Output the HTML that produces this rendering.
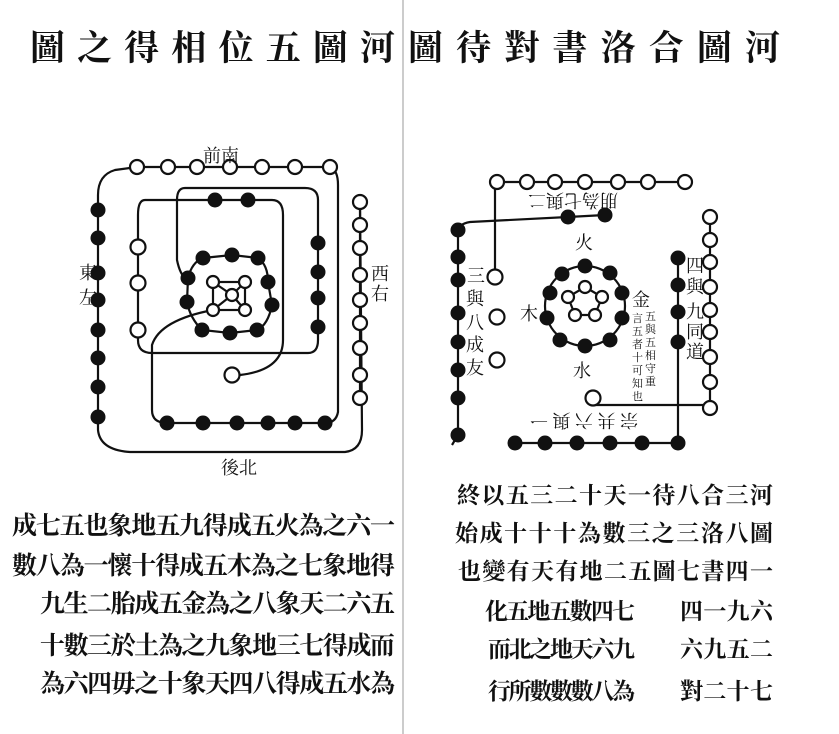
<!DOCTYPE html>
<html><head><meta charset="utf-8"><style>
html,body{margin:0;padding:0;background:#fff;}
svg{display:block;}
text{font-family:"Liberation Serif","Noto Serif CJK SC","Noto Sans CJK SC",serif;fill:#111;}
.b{font-weight:bold;}
</style></head><body>
<svg width="839" height="734" viewBox="0 0 839 734" xmlns="http://www.w3.org/2000/svg">
<rect width="839" height="734" fill="#fff"/>
<line x1="403" y1="0" x2="403" y2="734" stroke="#999" stroke-width="1"/>
<g class="b">
<text x="30" y="60" font-size="35" textLength="365" lengthAdjust="spacing">圖之得相位五圖河</text>
<text x="408" y="60" font-size="35" textLength="372" lengthAdjust="spacing">圖待對書洛合圖河</text>
</g>

<g fill="none" stroke="#111" stroke-width="2.2">
<path d="M137,167 L115,170 Q98,175 98,195 L98,430 Q100,450 130,452 L345,452 Q362,450 362,430 L360,202"/>
<path d="M330,167 Q338,170 338,185 L338,412 Q336,423 325,423 L167,423 Q152,423 152,410 L152,345 Q160,320 213,310"/>
<line x1="137" y1="167" x2="330" y2="167"/>
<line x1="360" y1="202" x2="360" y2="398"/>
<path d="M215,200 L145,200 Q138,200 138,215 L138,340 Q138,353 152,353 L308,353 Q318,353 318,340 L318,200 Q318,188 305,188 L185,188 Q177,188 177,200 L177,260 Q180,275 187,280"/>
<path d="M248,200 L272,200 Q283,200 283,215 L283,340 Q283,370 240,375 L232,375"/>
<line x1="215" y1="200" x2="248" y2="200"/>
<path d="M188,278 Q192,262 203,258 L232,255 L258,258 Q268,265 268,282 L272,305 Q268,325 257,330 L230,333 L202,330 Q190,318 187,302 Z"/>
<rect x="213" y="282" width="32" height="28"/>
<line x1="213" y1="282" x2="232" y2="295"/><line x1="245" y1="282" x2="232" y2="295"/>
<line x1="213" y1="310" x2="232" y2="295"/><line x1="245" y1="310" x2="232" y2="295"/>

<line x1="497" y1="182" x2="685" y2="182"/>
<line x1="495" y1="182" x2="495" y2="277"/>
<path d="M605,215 L568,217 L470,222 Q458,224 458,232 L458,435 L452,445"/>
<circle cx="585" cy="306" r="40"/>
<path d="M585,287 L602,297 L595,315 L575,315 L568,297 Z"/>
<line x1="710" y1="217" x2="710" y2="408"/>
<line x1="593" y1="405" x2="710" y2="405"/>
<line x1="678" y1="258" x2="678" y2="443"/>
<line x1="515" y1="443" x2="678" y2="443"/>
</g>

<g fill="#fff" stroke="#111" stroke-width="2.2">
<circle cx="137" cy="167" r="7"/><circle cx="168" cy="167" r="7"/><circle cx="197" cy="167" r="7"/><circle cx="230" cy="167" r="7"/><circle cx="262" cy="167" r="7"/><circle cx="295" cy="167" r="7"/><circle cx="330" cy="167" r="7"/>
<circle cx="360" cy="202" r="7"/><circle cx="360" cy="225" r="7"/><circle cx="360" cy="248" r="7"/><circle cx="360" cy="275" r="7"/><circle cx="360" cy="300" r="7"/><circle cx="360" cy="323" r="7"/><circle cx="360" cy="348" r="7"/><circle cx="360" cy="375" r="7"/><circle cx="360" cy="398" r="7"/>
<circle cx="138" cy="247" r="7.5"/><circle cx="138" cy="283" r="7.5"/><circle cx="138" cy="330" r="7.5"/>
<circle cx="232" cy="375" r="7.5"/>
<circle cx="213" cy="282" r="6"/><circle cx="245" cy="282" r="6"/><circle cx="232" cy="295" r="6"/><circle cx="213" cy="310" r="6"/><circle cx="245" cy="310" r="6"/>
<circle cx="497" cy="182" r="7"/><circle cx="527" cy="182" r="7"/><circle cx="555" cy="182" r="7"/><circle cx="585" cy="182" r="7"/><circle cx="618" cy="182" r="7"/><circle cx="648" cy="182" r="7"/><circle cx="685" cy="182" r="7"/>
<circle cx="495" cy="277" r="7.5"/><circle cx="497" cy="317" r="7.5"/><circle cx="497" cy="360" r="7.5"/>
<circle cx="710" cy="217" r="7"/><circle cx="710" cy="240" r="7"/><circle cx="710" cy="262" r="7"/><circle cx="710" cy="287" r="7"/><circle cx="710" cy="310" r="7"/><circle cx="710" cy="332" r="7"/><circle cx="710" cy="357" r="7"/><circle cx="710" cy="382" r="7"/><circle cx="710" cy="408" r="7"/>
<circle cx="593" cy="398" r="7.5"/>
<circle cx="585" cy="287" r="6"/><circle cx="602" cy="297" r="6"/><circle cx="595" cy="315" r="6"/><circle cx="575" cy="315" r="6"/><circle cx="568" cy="297" r="6"/>
</g>

<g fill="#111">
<circle cx="98" cy="210" r="7.5"/><circle cx="98" cy="238" r="7.5"/><circle cx="98" cy="273" r="7.5"/><circle cx="98" cy="300" r="7.5"/><circle cx="98" cy="330" r="7.5"/><circle cx="98" cy="358" r="7.5"/><circle cx="98" cy="387" r="7.5"/><circle cx="98" cy="417" r="7.5"/>
<circle cx="167" cy="423" r="7.5"/><circle cx="203" cy="423" r="7.5"/><circle cx="237" cy="423" r="7.5"/><circle cx="268" cy="423" r="7.5"/><circle cx="295" cy="423" r="7.5"/><circle cx="325" cy="423" r="7.5"/>
<circle cx="215" cy="200" r="7.5"/><circle cx="248" cy="200" r="7.5"/>
<circle cx="318" cy="243" r="7.5"/><circle cx="318" cy="272" r="7.5"/><circle cx="318" cy="298" r="7.5"/><circle cx="318" cy="327" r="7.5"/>
<circle cx="203" cy="258" r="7.5"/><circle cx="232" cy="255" r="7.5"/><circle cx="258" cy="258" r="7.5"/><circle cx="268" cy="282" r="7.5"/><circle cx="272" cy="305" r="7.5"/><circle cx="257" cy="330" r="7.5"/><circle cx="230" cy="333" r="7.5"/><circle cx="202" cy="330" r="7.5"/><circle cx="187" cy="302" r="7.5"/><circle cx="188" cy="278" r="7.5"/>
<circle cx="568" cy="217" r="7.5"/><circle cx="605" cy="215" r="7.5"/>
<circle cx="458" cy="230" r="7.5"/><circle cx="458" cy="257" r="7.5"/><circle cx="458" cy="280" r="7.5"/><circle cx="458" cy="313" r="7.5"/><circle cx="458" cy="342" r="7.5"/><circle cx="458" cy="370" r="7.5"/><circle cx="458" cy="398" r="7.5"/><circle cx="458" cy="435" r="7.5"/>
<circle cx="585" cy="266" r="7.5"/><circle cx="610" cy="273" r="7.5"/><circle cx="622" cy="293" r="7.5"/><circle cx="622" cy="318" r="7.5"/><circle cx="610" cy="340" r="7.5"/><circle cx="585" cy="346" r="7.5"/><circle cx="560" cy="340" r="7.5"/><circle cx="547" cy="318" r="7.5"/><circle cx="550" cy="293" r="7.5"/><circle cx="562" cy="274" r="7.5"/>
<circle cx="678" cy="258" r="7.5"/><circle cx="678" cy="285" r="7.5"/><circle cx="678" cy="312" r="7.5"/><circle cx="678" cy="342" r="7.5"/>
<circle cx="515" cy="443" r="7.5"/><circle cx="545" cy="443" r="7.5"/><circle cx="577" cy="443" r="7.5"/><circle cx="610" cy="443" r="7.5"/><circle cx="642" cy="443" r="7.5"/><circle cx="678" cy="443" r="7.5"/>
</g>

<g font-size="18">
<text x="203" y="162">前南</text>
<text x="79" y="279">東</text><text x="79" y="304">左</text>
<text x="371" y="280">西</text><text x="371" y="300">右</text>
<text x="221" y="474">後北</text>
<text x="575" y="249">火</text>
<text x="520" y="320">木</text>
<text x="632" y="306">金</text>
<text x="573" y="377">水</text>
<text x="467" y="282">三</text>
<text x="466" y="305">與</text><text x="466" y="329">八</text><text x="466" y="351">成</text><text x="466" y="374">友</text>
<text x="686" y="272">四</text><text x="686" y="293">與</text><text x="686" y="318">九</text><text x="686" y="338">同</text><text x="686" y="358">道</text>
<text transform="translate(618,194) rotate(180)" textLength="90" lengthAdjust="spacing">朋為七與二</text>
<text transform="translate(638,414) rotate(180)" textLength="108" lengthAdjust="spacing">宗共六與一</text>
</g>
<g font-size="11">
<text x="645" y="320">五</text><text x="645" y="333">與</text><text x="645" y="346">五</text><text x="645" y="359">相</text><text x="645" y="372">守</text><text x="645" y="385">重</text>
<text x="632" y="322">言</text><text x="632" y="335">五</text><text x="632" y="348">者</text><text x="632" y="361">十</text><text x="632" y="374">可</text><text x="632" y="387">知</text><text x="632" y="400">也</text>
</g>

<g font-size="25" class="b">
<text x="12" y="534" textLength="383" lengthAdjust="spacing">成七五也象地五九得成五火為之六一</text>
<text x="12" y="574" textLength="383" lengthAdjust="spacing">數八為一懷十得成五木為之七象地得</text>
<text x="40" y="612" textLength="355" lengthAdjust="spacing">九生二胎成五金為之八象天二六五</text>
<text x="40" y="654" textLength="355" lengthAdjust="spacing">十數三於土為之九象地三七得成而</text>
<text x="40" y="692" textLength="355" lengthAdjust="spacing">為六四毋之十象天四八得成五水為</text>
</g>
<g font-size="23" class="b">
<text x="457" y="503" textLength="316" lengthAdjust="spacing">終以五三二十天一待八合三河</text>
<text x="455" y="541" textLength="318" lengthAdjust="spacing">始成十十十為數三之三洛八圖</text>
<text x="458" y="579" textLength="315" lengthAdjust="spacing">也變有天有地二五圖七書四一</text>
<text x="485" y="619" textLength="150" lengthAdjust="spacing">化五地五數四七</text>
<text x="680" y="619" textLength="93" lengthAdjust="spacing">四一九六</text>
<text x="488" y="657" textLength="147" lengthAdjust="spacing">而北之地天六九</text>
<text x="680" y="657" textLength="93" lengthAdjust="spacing">六九五二</text>
<text x="488" y="699" textLength="147" lengthAdjust="spacing">行所數數數八為</text>
<text x="680" y="699" textLength="93" lengthAdjust="spacing">對二十七</text>
</g>
</svg>
</body></html>
